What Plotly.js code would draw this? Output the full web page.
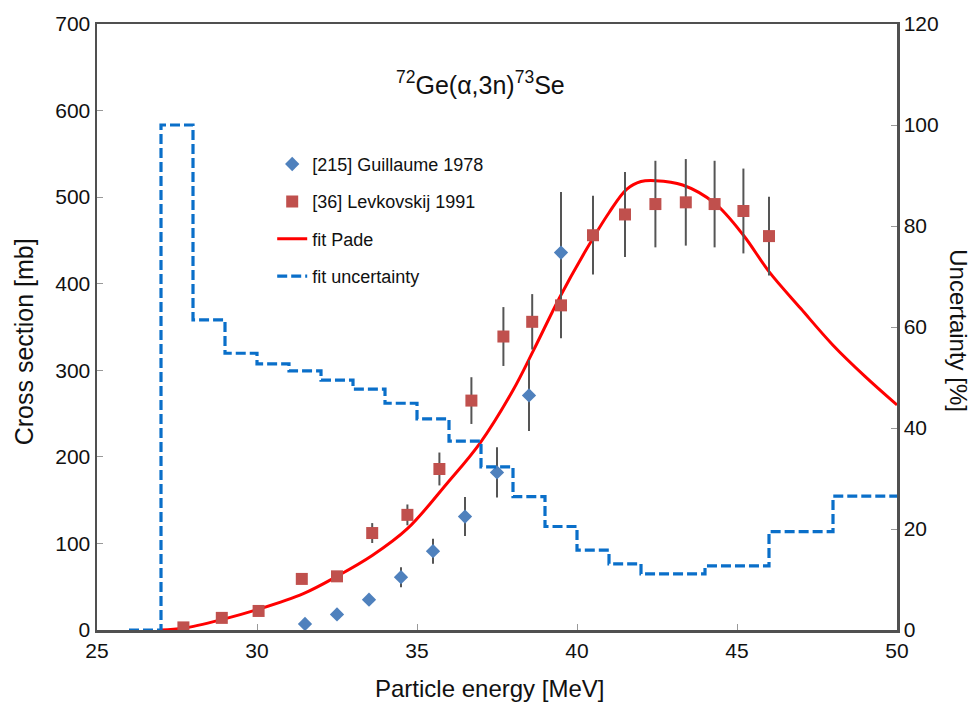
<!DOCTYPE html>
<html>
<head>
<meta charset="utf-8">
<script src="https://cdn.plot.ly/plotly-3.0.1.min.js"></script>
<style>html,body{margin:0;padding:0;background:#fff;}#chart{width:974px;height:703px;}</style>
</head>
<body>
<div id="chart"></div>
<script>
// Guillaume 1978
const guilE = [31.5, 32.5, 33.5, 34.5, 35.5, 36.5, 37.5, 38.5, 39.5];
const guilXS = [7, 18, 35, 61, 91, 131, 182, 271, 436];
const guilErr = [0, 0, 0, 11.5, 14.5, 22.5, 29, 41, 70];

// Levkovskij 1991
const levE = [27.7, 28.9, 30.05, 31.4, 32.5, 33.6, 34.7, 35.7, 36.7, 37.7, 38.6, 39.5, 40.5, 41.5, 42.45, 43.4, 44.3, 45.2, 46.0];
const levXS = [3, 14, 22, 59, 62, 112, 133, 186, 265, 339, 356, 375, 456, 480, 492, 494, 492, 484, 455];
const levErr = [0, 0, 0, 0, 0, 11.5, 12, 19, 27, 34, 32, 38, 45.5, 49, 50, 50, 50, 49, 45.5];

// fit Pade
const fitE = [27.0, 27.7, 28.9, 30.05, 31.45, 32.5, 33.6, 34.7, 35.93, 36.97, 38.0, 38.64, 39.47, 40.3, 41.0, 41.55, 42.0, 42.45, 43.3, 44.3, 45.2, 46.0, 47.0, 48.0, 49.0, 50.0];
const fitXS = [0, 2, 12, 24, 42, 62, 86, 117, 169, 216, 277, 323, 385, 440, 482, 509, 518, 519, 514, 493, 456, 414, 371, 329, 293, 260];

// fit uncertainty (%), step function
const uncE = [26, 27, 28, 29, 30, 31, 32, 33, 34, 35, 36, 37, 38, 39, 40, 41, 42, 44, 46, 48, 50];
const uncPct = [0, 100, 61.4, 54.8, 52.7, 51.3, 49.5, 47.7, 44.9, 41.8, 37.4, 32.3, 26.4, 20.5, 15.8, 13.1, 11.1, 12.7, 19.5, 26.5, 26.5];

const FONT = "Liberation Sans, Arial, sans-serif";
const AX = '#505050';
const TK = '#999999';

const traces = [
  {
    x: uncE, y: uncPct, yaxis: 'y2', type: 'scatter', mode: 'lines',
    line: {shape: 'hv', color: '#0a6fc9', width: 3.2, dash: '10px,4px'},
    name: 'fit uncertainty', legendgroup: 'd', legendrank: 4
  },
  {
    x: fitE, y: fitXS, type: 'scatter', mode: 'lines',
    line: {shape: 'spline', smoothing: 1, color: '#ff0000', width: 3},
    name: 'fit Pade', legendgroup: 'c', legendrank: 3
  },
  {
    x: guilE, y: guilXS, type: 'scatter', mode: 'markers',
    marker: {symbol: 'diamond', size: 11, color: '#4f81bd'},
    error_y: {type: 'data', array: guilErr, visible: true, color: '#555555', thickness: 2, width: 0},
    name: '[215] Guillaume 1978', legendgroup: 'a', legendrank: 1
  },
  {
    x: levE, y: levXS, type: 'scatter', mode: 'markers',
    marker: {symbol: 'square', size: 12, color: '#c0504d'},
    error_y: {type: 'data', array: levErr, visible: true, color: '#555555', thickness: 2, width: 0},
    name: '[36] Levkovskij 1991', legendgroup: 'b', legendrank: 2
  }
];

const layout = {
  width: 974, height: 703,
  margin: {l: 97, r: 77, t: 24, b: 73},
  paper_bgcolor: '#fff', plot_bgcolor: '#fff',
  font: {family: FONT, size: 21, color: '#111'},
  showlegend: true,
  legend: {
    x: 0.219, y: 0.799, xanchor: 'left', yanchor: 'top',
    bgcolor: 'rgba(0,0,0,0)', font: {size: 18, family: FONT, color: '#111'},
    tracegroupgap: 11, traceorder: 'grouped'
  },
  xaxis: {
    range: [25, 50], dtick: 5, tick0: 25,
    showgrid: false, zeroline: false,
    showline: true, mirror: true, linecolor: AX, linewidth: 2.5,
    ticks: 'inside', ticklen: 6, tickcolor: TK, tickwidth: 1,
    tickfont: {size: 21}
  },
  yaxis: {
    range: [0, 700], dtick: 100,
    showgrid: false, zeroline: false,
    showline: true, linecolor: AX, linewidth: 2.5,
    ticks: 'inside', ticklen: 6, tickcolor: TK, tickwidth: 1,
    tickfont: {size: 21}
  },
  yaxis2: {
    range: [0, 120], dtick: 20, overlaying: 'y', side: 'right',
    showgrid: false, zeroline: false,
    showline: true, linecolor: AX, linewidth: 2.5,
    ticks: 'inside', ticklen: 6, tickcolor: TK, tickwidth: 1,
    tickfont: {size: 21}
  },
  annotations: [
    {
      text: '<sup>72</sup>Ge(α,3n)<sup>73</sup>Se',
      xref: 'paper', yref: 'paper', x: 0.479, y: 0.903,
      xanchor: 'center', yanchor: 'middle', showarrow: false,
      font: {size: 25, family: FONT, color: '#111'}
    },
    {
      text: 'Particle energy [MeV]',
      xref: 'paper', yref: 'paper', x: 0.491, y: -0.097,
      xanchor: 'center', yanchor: 'middle', showarrow: false,
      font: {size: 24, family: FONT, color: '#111'}
    },
    {
      text: 'Cross section [mb]',
      xref: 'paper', yref: 'paper', x: -0.091, y: 0.475,
      xanchor: 'center', yanchor: 'middle', showarrow: false, textangle: -90,
      font: {size: 25, family: FONT, color: '#111'}
    },
    {
      text: 'Uncertainty [%]',
      xref: 'paper', yref: 'paper', x: 1.0775, y: 0.493,
      xanchor: 'center', yanchor: 'middle', showarrow: false, textangle: 90,
      font: {size: 24, family: FONT, color: '#111'}
    }
  ]
};

Plotly.newPlot('chart', traces, layout, {displayModeBar: false, staticPlot: true});
</script>
</body>
</html>
